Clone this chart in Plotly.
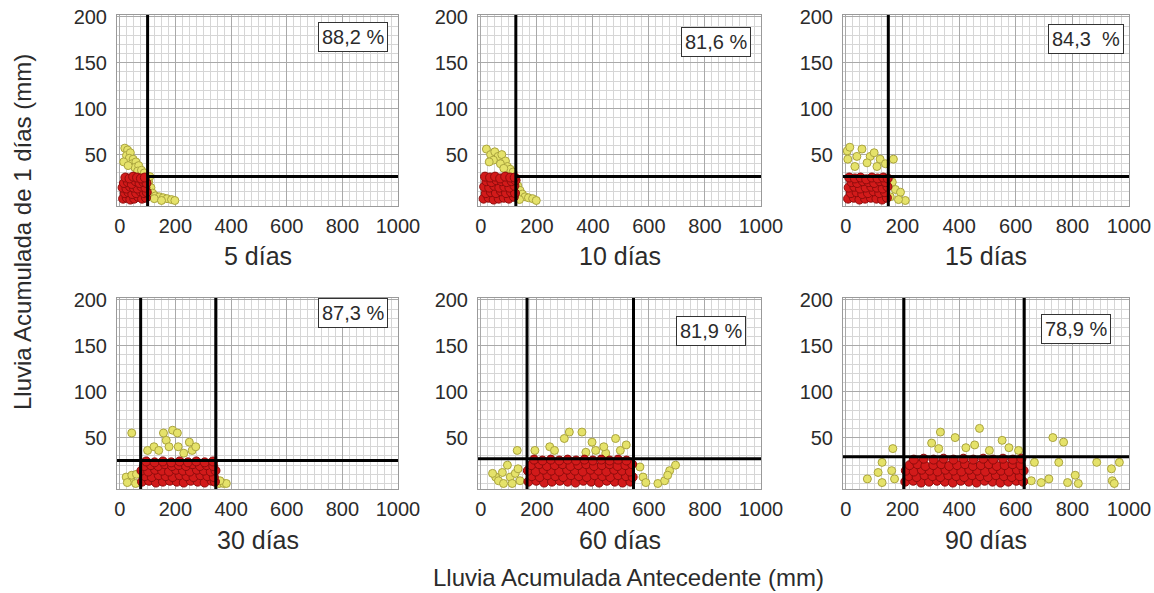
import plotly.graph_objects as go

# ---------------- DATA ----------------
panel_titles = ["5 días", "10 días", "15 días", "30 días", "60 días", "90 días"]
percent_labels = ["88,2 %", "81,6 %", "84,3  %", "87,3 %", "81,9 %", "78,9 %"]
x_ticks = [0, 200, 400, 600, 800, 1000]
y_ticks = [50, 100, 150, 200]

# threshold lines: vertical x positions, horizontal y level and horizontal start
vert_lines = [[100], [125], [150], [75, 345], [165, 545], [205, 630]]
horiz_level = [26, 26, 26, 25, 27, 29]
horiz_start = [100, 125, -10, -10, -10, -10]

# 5 días
yel_x_5 = [18, 28, 24, 38, 34, 48, 44, 58, 54, 68, 64, 78, 88, 14, 30, 104, 112, 118, 128, 142, 156, 170, 186, 198, 124, 150, 108]
yel_y_5 = [57, 55, 49, 52, 46, 45, 40, 42, 36, 38, 32, 33, 30, 42, 38, 20, 14, 8, 5, 4, 3, 2, 1, 0, 2, 0, 26]
red_x_5 = [12, 25, 38, 52, 66, 80, 94, 18, 31, 45, 59, 73, 87, 97, 10, 24, 37, 50, 64, 78, 92, 15, 29, 43, 57, 71, 85, 96, 20, 35, 48, 62, 76, 90]
red_y_5 = [2, 3, 1, 2, 4, 2, 3, 8, 9, 7, 8, 10, 8, 9, 14, 13, 15, 14, 13, 15, 14, 19, 20, 18, 21, 19, 20, 19, 25, 24, 26, 25, 24, 25]

# 10 días
yel_x_10 = [20, 35, 50, 62, 45, 75, 88, 70, 95, 105, 115, 30, 82, 125, 132, 140, 148, 158, 170, 185, 198, 138]
yel_y_10 = [56, 50, 53, 48, 44, 50, 43, 40, 37, 34, 31, 42, 35, 22, 16, 11, 7, 4, 3, 2, 0, 1]
red_x_10 = [10, 28, 46, 64, 82, 100, 118, 18, 36, 54, 72, 90, 108, 122, 12, 30, 48, 66, 84, 102, 120, 20, 38, 56, 74, 92, 110, 124, 15, 33, 51, 69, 87, 105, 121]
red_y_10 = [2, 3, 1, 2, 3, 2, 4, 8, 9, 8, 10, 8, 9, 8, 15, 14, 16, 14, 15, 14, 16, 21, 20, 22, 21, 20, 21, 22, 26, 25, 26, 24, 26, 25, 25]

# 15 días
yel_x_15 = [5, 14, 57, 39, 86, 121, 168, 75, 110, 7, 32, 164, 175, 193, 210, 186, 157, 100, 140]
yel_y_15 = [54, 58, 56, 48, 48, 45, 45, 41, 37, 45, 37, 20, 12, 9, 0, 1, 4, 52, 40]
red_x_15 = [8, 28, 48, 68, 88, 108, 128, 145, 18, 38, 58, 78, 98, 118, 138, 10, 30, 50, 70, 90, 110, 130, 147, 20, 40, 60, 80, 100, 120, 140, 12, 32, 52, 72, 92, 112, 132, 148]
red_y_15 = [2, 3, 1, 2, 3, 2, 1, 3, 8, 9, 7, 8, 10, 8, 9, 14, 15, 13, 14, 15, 14, 13, 15, 20, 19, 21, 20, 19, 21, 20, 25, 24, 25, 23, 25, 24, 25, 24]

# 30 días
yel_x_30 = [43, 100, 123, 157, 167, 190, 207, 177, 210, 250, 260, 273, 140, 23, 40, 27, 43, 57, 357, 373, 383, 360, 230, 60]
yel_y_30 = [55, 36, 40, 55, 47, 58, 55, 40, 40, 45, 36, 40, 36, 7, 3, 1, 9, 0, 0, 0, 0, 3, 33, 10]
red_x_30 = [80, 105, 130, 155, 180, 205, 230, 255, 280, 305, 330, 342,
            90, 115, 140, 165, 190, 215, 240, 265, 290, 315, 338,
            78, 102, 127, 152, 177, 202, 227, 252, 277, 302, 327, 344,
            88, 112, 138, 162, 188, 212, 238, 262, 288, 312, 336,
            95, 125, 155, 185, 215, 245, 275, 305, 335]
red_y_30 = [2, 3, 1, 2, 3, 2, 1, 3, 2, 1, 3, 2,
            8, 7, 9, 8, 7, 9, 8, 7, 9, 8, 7,
            14, 13, 15, 14, 13, 15, 14, 13, 15, 14, 13, 14,
            19, 20, 19, 21, 19, 20, 19, 21, 19, 20, 19,
            24, 23, 24, 23, 24, 23, 24, 23, 24]

# 60 días
yel_x_60 = [130, 193, 246, 263, 298, 316, 361, 397, 410, 446, 481, 498, 519, 375, 439, 53, 77, 95, 63, 105, 123, 81, 140, 42, 112, 133, 568, 579, 589, 632, 656, 674, 695, 667]
yel_y_60 = [36, 36, 40, 36, 49, 56, 56, 45, 36, 33, 49, 36, 42, 34, 40, 7, 12, 20, 3, 7, 11, 0, 3, 11, 0, 16, 18, 7, 1, 0, 3, 14, 20, 9]
red_x_60 = [170, 198, 226, 254, 282, 310, 338, 366, 394, 422, 450, 478, 506, 534,
            182, 210, 238, 266, 294, 322, 350, 378, 406, 434, 462, 490, 518, 542,
            168, 196, 224, 252, 280, 308, 336, 364, 392, 420, 448, 476, 504, 532,
            180, 208, 236, 264, 292, 320, 348, 376, 404, 432, 460, 488, 516, 540,
            190, 220, 250, 280, 310, 340, 370, 400, 430, 460, 490, 520]
red_y_60 = [2, 3, 1, 2, 3, 2, 1, 3, 2, 1, 3, 2, 1, 2,
            8, 7, 9, 8, 7, 9, 8, 7, 9, 8, 7, 9, 8, 7,
            14, 13, 15, 14, 13, 15, 14, 13, 15, 14, 13, 15, 14, 13,
            20, 21, 19, 20, 21, 19, 20, 21, 19, 20, 21, 19, 20, 21,
            26, 25, 26, 25, 26, 25, 26, 25, 26, 25, 26, 25]

# 90 días
yel_x_90 = [76, 114, 128, 162, 166, 128, 172, 303, 328, 334, 386, 424, 455, 472, 507, 552, 576, 610, 666, 655, 690, 717, 731, 769, 752, 783, 810, 821, 886, 938, 966, 941, 948]
yel_y_90 = [5, 12, 23, 14, 38, 1, 5, 44, 38, 56, 50, 39, 42, 60, 36, 47, 39, 36, 23, 3, 1, 5, 50, 45, 23, 1, 9, 0, 23, 16, 23, 3, 0]
red_x_90 = [210, 238, 266, 294, 322, 350, 378, 406, 434, 462, 490, 518, 546, 574, 602, 626,
            222, 250, 278, 306, 334, 362, 390, 418, 446, 474, 502, 530, 558, 586, 614,
            212, 240, 268, 296, 324, 352, 380, 408, 436, 464, 492, 520, 548, 576, 604, 628,
            225, 253, 281, 309, 337, 365, 393, 421, 449, 477, 505, 533, 561, 589, 617,
            240, 275, 310, 345, 380, 415, 450, 485, 520, 555, 590, 620]
red_y_90 = [2, 3, 1, 2, 3, 2, 1, 3, 2, 1, 3, 2, 1, 2, 3, 2,
            8, 7, 9, 8, 7, 9, 8, 7, 9, 8, 7, 9, 8, 7, 8,
            14, 13, 15, 14, 13, 15, 14, 13, 15, 14, 13, 15, 14, 13, 15, 14,
            20, 21, 19, 20, 21, 19, 20, 21, 19, 20, 21, 19, 20, 21, 20,
            26, 27, 26, 27, 26, 27, 26, 27, 26, 27, 26, 27]

yel_x = [yel_x_5, yel_x_10, yel_x_15, yel_x_30, yel_x_60, yel_x_90]
yel_y = [yel_y_5, yel_y_10, yel_y_15, yel_y_30, yel_y_60, yel_y_90]
red_x = [red_x_5, red_x_10, red_x_15, red_x_30, red_x_60, red_x_90]
red_y = [red_y_5, red_y_10, red_y_15, red_y_30, red_y_60, red_y_90]

# ---------------- LAYOUT ----------------
W, H = 1154, 593
OFF = 0  # body margin removed by post_script below


def fx(px):
    return (px - OFF) / W


def fy(py):
    return 1 - (py - OFF) / H


col_px = [(117, 398), (478, 761), (843, 1129)]
row_px = [(15, 206), (298, 489)]
x_range = [-10, 1000]
y_range = [-6, 202]

FONT = "Liberation Sans, Arial, sans-serif"
TXT = "#2b2b2b"

fig = go.Figure()
layout = {}
annotations = []
shapes = []

# percent box centres in pixels
pct_pos = [(353, 37), (716, 42), (1086, 39), (353, 313), (711, 331), (1076, 329)]
title_y = [256, 540]

for i in range(6):
    r, c = divmod(i, 3)
    ax = "" if i == 0 else str(i + 1)
    x0p, x1p = col_px[c]
    y0p, y1p = row_px[r]
    layout["xaxis" + ax] = dict(
        domain=[fx(x0p), fx(x1p)], range=x_range, anchor="y" + ax, automargin=False,
        tickvals=x_ticks, ticks="", showline=True, mirror=True, linecolor="#9a9a9a", linewidth=1,
        showgrid=True, gridcolor="#a9a9a9", gridwidth=1, zeroline=False,
        minor=dict(dtick=25, tick0=0, showgrid=True, gridcolor="#d6d6d6", gridwidth=1),
        tickfont=dict(family=FONT, size=20, color=TXT), ticklabelstandoff=2,
        ticklabeloverflow="allow",
    )
    layout["yaxis" + ax] = dict(
        domain=[fy(y1p), fy(y0p)], range=y_range, anchor="x" + ax, automargin=False,
        tickvals=y_ticks, ticks="", showline=True, mirror=True, linecolor="#9a9a9a", linewidth=1,
        showgrid=True, gridcolor="#a9a9a9", gridwidth=1, zeroline=False,
        minor=dict(dtick=10, tick0=0, showgrid=True, gridcolor="#d6d6d6", gridwidth=1),
        tickfont=dict(family=FONT, size=20, color=TXT), ticklabelstandoff=5,
        ticklabeloverflow="allow",
    )
    xr, yr = "x" + ax, "y" + ax
    fig.add_trace(go.Scatter(
        x=yel_x[i], y=yel_y[i], mode="markers", xaxis=xr, yaxis=yr, showlegend=False,
        marker=dict(size=8, color="#e5e26a", line=dict(color="#aaa43e", width=1)),
        cliponaxis=False))
    fig.add_trace(go.Scatter(
        x=red_x[i], y=red_y[i], mode="markers", xaxis=xr, yaxis=yr, showlegend=False,
        marker=dict(size=9, color="#d21a1a", line=dict(color="#8e0c0c", width=1)),
        cliponaxis=False))
    for v in vert_lines[i]:
        shapes.append(dict(type="line", xref=xr, yref=yr + " domain", x0=v, x1=v, y0=0, y1=1,
                           line=dict(color="black", width=3)))
    shapes.append(dict(type="line", xref=xr, yref=yr, x0=horiz_start[i], x1=x_range[1],
                       y0=horiz_level[i], y1=horiz_level[i], line=dict(color="black", width=3)))
    # panel title
    annotations.append(dict(x=fx((x0p + x1p) / 2), y=fy(title_y[r]), xref="paper", yref="paper",
                            text=panel_titles[i], showarrow=False,
                            font=dict(family=FONT, size=25, color=TXT), xanchor="center", yanchor="middle"))
    px, py = pct_pos[i]
    annotations.append(dict(x=fx(px), y=fy(py), xref="paper", yref="paper",
                            text=percent_labels[i], showarrow=False, bgcolor="white",
                            bordercolor="#333333", borderwidth=1, borderpad=3,
                            font=dict(family=FONT, size=20, color=TXT), xanchor="center", yanchor="middle"))

annotations.append(dict(x=fx(22), y=fy(232), xref="paper", yref="paper",
                        text="Lluvia Acumulada de 1 días (mm)", textangle=-90, showarrow=False,
                        font=dict(family=FONT, size=24, color=TXT), xanchor="center", yanchor="middle"))
annotations.append(dict(x=fx(628), y=fy(577), xref="paper", yref="paper",
                        text="Lluvia Acumulada Antecedente (mm)", showarrow=False,
                        font=dict(family=FONT, size=24, color=TXT), xanchor="center", yanchor="middle"))

fig.update_layout(
    width=W, height=H, autosize=False,
    margin=dict(l=0, r=0, t=0, b=0, pad=0, autoexpand=False),
    paper_bgcolor="white", plot_bgcolor="white", hovermode=False,
    annotations=annotations, shapes=shapes, **layout)

fig.write_html("out.html", config={"responsive": False, "displayModeBar": False, "staticPlot": True},
               post_script="document.body.style.margin='0';document.body.style.overflow='hidden';")
